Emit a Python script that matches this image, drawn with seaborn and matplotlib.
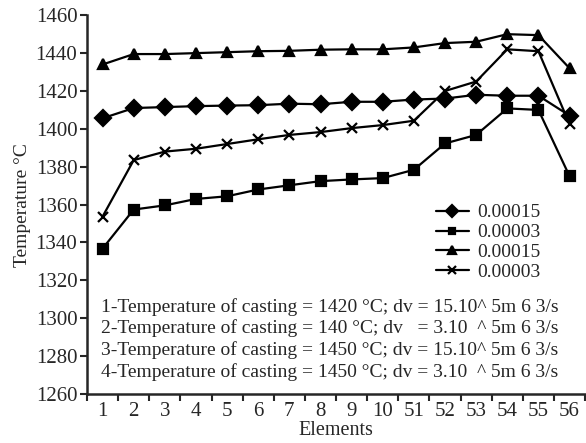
import numpy as np
import seaborn as sns
import matplotlib.pyplot as plt

elements = ["1", "2", "3", "4", "5", "6", "7", "8", "9", "10",
            "51", "52", "53", "54", "55", "56"]

s1 = [1405.6, 1411, 1411.5, 1412, 1412.3, 1412.5, 1413.3, 1413, 1414.3, 1414.3,
      1415.5, 1416, 1418, 1417.5, 1417.5, 1407]
s2 = [1336.8, 1357.4, 1359.6, 1363, 1364.4, 1368, 1370.2, 1372.4, 1373.3, 1374,
      1378.4, 1392.3, 1396.8, 1410.8, 1410, 1375]
s3 = [1434, 1439.5, 1439.5, 1440, 1440.5, 1441, 1441.2, 1441.8, 1442, 1442,
      1443, 1445.3, 1446, 1450, 1449.5, 1432]
s4 = [1353.7, 1383.5, 1388, 1389.5, 1392, 1394.5, 1396.8, 1398.3, 1400.4, 1402,
      1404.3, 1420, 1425, 1442, 1441, 1402.5]

labels = ["0.00015", "0.00003", "0.00015", "0.00003"]

notes = [
    "1-Temperature of casting = 1420 °C; dv = 15.10^ 5m 6 3/s",
    "2-Temperature of casting = 140 °C; dv   = 3.10  ^ 5m 6 3/s",
    "3-Temperature of casting = 1450 °C; dv = 15.10^ 5m 6 3/s",
    "4-Temperature of casting = 1450 °C; dv = 3.10  ^ 5m 6 3/s",
]

sns.set_style("ticks")
plt.rcParams['font.family'] = ['Liberation Serif', 'DejaVu Serif']

fig = plt.figure(figsize=(5.86, 4.43), dpi=100)
ax = fig.add_axes([0.1485, 0.1106, 0.85, 0.855])

x = np.arange(len(elements))
styles = [("D", 8), ("s", 6.5), ("^", 7.5), ("x", 7)]
for vals, lbl, (m, ms) in zip([s1, s2, s3, s4], labels, styles):
    sns.lineplot(x=x, y=vals, ax=ax, color="black", marker=m, markersize=ms,
                 markeredgecolor="black", markeredgewidth=1.6, linewidth=1.6,
                 label=lbl)

ax.set_xlim(-0.5, 15.5)
ax.set_ylim(1260, 1460)
ax.set_yticks(np.arange(1260, 1461, 20))
ax.set_xticks(x)
ax.set_xticklabels(elements)
ax.set_xticks(np.arange(-0.5, 15.6, 1), minor=True)
ax.tick_params(axis="x", which="major", length=0, pad=6, labelsize=15)
ax.tick_params(axis="x", which="minor", length=5, width=1.5, direction="out")
ax.tick_params(axis="y", length=5, width=1.5, pad=2, labelsize=15)

for sp in ["left", "bottom"]:
    ax.spines[sp].set_linewidth(1.8)
sns.despine(ax=ax)

ax.set_xlabel("Elements", fontsize=14.5, labelpad=0)
ax.set_ylabel("Temperature °C", fontsize=14, labelpad=3)

yfr = [0.230, 0.174, 0.116, 0.059]
for t, yy in zip(notes, yfr):
    ax.text(0.028, yy, t, transform=ax.transAxes, fontsize=14,
            va="center", ha="left")

ax.legend(loc="center left", bbox_to_anchor=(0.70, 0.40), frameon=False,
          fontsize=14, handlelength=1.7, handletextpad=0.45, markerscale=0.75,
          labelspacing=0.12, borderpad=0, borderaxespad=0)

fig.savefig("out.png", dpi=100)
